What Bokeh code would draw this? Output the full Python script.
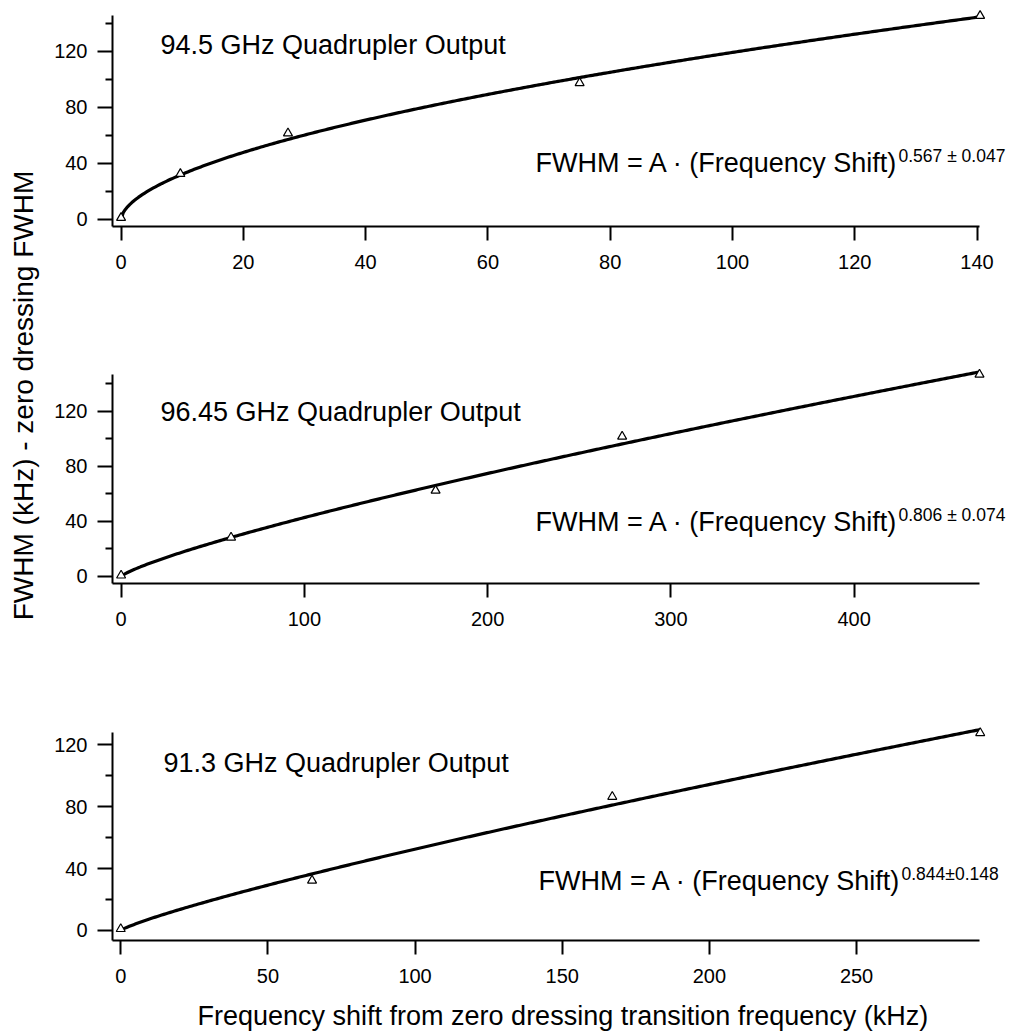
import math
import numpy as np
from bokeh.plotting import figure
from bokeh.layouts import column, row
from bokeh.models import Label, FixedTicker, Range1d
from bokeh.embed import file_html
from bokeh.resources import INLINE

FONT = "Liberation Sans"

# ---- data ----
# Panel 1: 94.5 GHz quadrupler output
shift_945 = [0.0, 9.7, 27.3, 75.0, 140.5]
fwhm_945 = [1.2, 32.6, 61.6, 97.5, 145.5]
exp_945 = 0.567
# Panel 2: 96.45 GHz quadrupler output
shift_9645 = [0.0, 60.0, 171.6, 273.4, 468.4]
fwhm_9645 = [0.8, 28.4, 62.5, 101.8, 146.9]
exp_9645 = 0.806
# Panel 3: 91.3 GHz quadrupler output
shift_913 = [0.0, 65.0, 167.0, 292.0]
fwhm_913 = [1.0, 32.3, 86.5, 127.7]
exp_913 = 0.844

titles = ["94.5 GHz Quadrupler Output", "96.45 GHz Quadrupler Output", "91.3 GHz Quadrupler Output"]
formula_text = "FWHM = A \u00b7 (Frequency Shift)"
exponent_labels = ["0.567 \u00b1 0.047", "0.806 \u00b1 0.074", "0.844\u00b10.148"]

xticks_1 = [0, 20, 40, 60, 80, 100, 120, 140]
xticks_2 = [0, 100, 200, 300, 400]
xticks_3 = [0, 50, 100, 150, 200, 250]
yticks = [0, 40, 80, 120]
yminor_12 = [20, 60, 100, 140]
yminor_3 = [20, 60, 100]

x_label = "Frequency shift from zero dressing transition frequency (kHz)"
y_label = "FWHM (kHz) - zero dressing FWHM"

YLAB_W = 50
XLAB_H = 40
PANEL_W = 1013 - YLAB_W
RIGHT_B = 3          # frame runs almost to the page edge so the exponents fit
AXIS_RIGHT = 979     # where the drawn x axes stop (page pixels)
TOP_EXTRA = 10       # room above the y axes so the top markers are not clipped


def fit_curve(xs, ys, p):
    x = np.asarray(xs, dtype=float)
    y = np.asarray(ys, dtype=float)
    A = float(np.sum(y * x ** p) / np.sum(x ** (2 * p)))
    xc = np.linspace(0.0, x.max(), 400)
    return xc, A * xc ** p


def make_panel(xs, ys, p_exp, title, exp_label, xr, yr, xticks, yminor,
               height, b_top, b_bottom, left_px, title_pos, formula_pos, sup_pos):
    frame_right = 1013 - RIGHT_B
    upp_x = (xr[1] - xr[0]) / (AXIS_RIGHT - left_px)
    x_end = xr[1] + (frame_right - AXIS_RIGHT) * upp_x
    frame_h = height - b_top - b_bottom
    upp_y = (yr[1] - yr[0]) / frame_h
    y_end = yr[1] + TOP_EXTRA * upp_y

    p = figure(width=PANEL_W, height=height, x_range=Range1d(xr[0], x_end),
               y_range=Range1d(yr[0], y_end),
               min_border_left=left_px - YLAB_W, min_border_right=RIGHT_B,
               min_border_top=b_top - TOP_EXTRA, min_border_bottom=b_bottom,
               toolbar_location=None, output_backend="svg",
               background_fill_color="white", border_fill_color="white")
    p.grid.visible = False
    p.outline_line_color = None

    xa = p.xaxis[0]
    xa.bounds = (xr[0], xr[1])
    xa.ticker = FixedTicker(ticks=xticks, minor_ticks=[])
    xa.axis_line_width = 2
    xa.major_tick_line_width = 2
    xa.major_tick_out = 14
    xa.major_tick_in = 0
    xa.minor_tick_out = 0
    xa.minor_tick_in = 0
    xa.major_label_text_font = FONT
    xa.major_label_text_font_size = "20px"
    xa.major_label_text_color = "black"
    xa.major_label_standoff = 14

    ya = p.yaxis[0]
    ya.bounds = (yr[0], yr[1])
    ya.ticker = FixedTicker(ticks=yticks, minor_ticks=yminor)
    ya.axis_line_width = 2
    ya.major_tick_line_width = 2
    ya.minor_tick_line_width = 2
    ya.major_tick_out = 15
    ya.major_tick_in = 0
    ya.minor_tick_out = 7
    ya.minor_tick_in = 0
    ya.major_label_text_font = FONT
    ya.major_label_text_font_size = "20px"
    ya.major_label_text_color = "black"
    ya.major_label_standoff = 10

    xc, yc = fit_curve(xs, ys, p_exp)
    p.line(xc, yc, line_color="black", line_width=3.2)
    p.scatter(xs, ys, marker="triangle", size=9, fill_color="white",
              line_color="black", line_width=1.2)

    p.add_layout(Label(x=title_pos[0], y=title_pos[1], x_units="screen", y_units="screen",
                       text=title, text_font=FONT, text_font_size="27px",
                       text_color="black", text_baseline="alphabetic"))
    p.add_layout(Label(x=formula_pos[0], y=formula_pos[1], x_units="screen", y_units="screen",
                       text=formula_text, text_font=FONT, text_font_size="27px",
                       text_color="black", text_baseline="alphabetic"))
    p.add_layout(Label(x=sup_pos[0], y=sup_pos[1], x_units="screen", y_units="screen",
                       text=exp_label, text_font=FONT, text_font_size="17.5px",
                       text_color="black", text_baseline="alphabetic"))
    return p


p1 = make_panel(shift_945, fwhm_945, exp_945, titles[0], exponent_labels[0],
                (-1.4, 140.4), (-5.0, 145.7), xticks_1, yminor_12,
                300, 15, 74, 112, (48, 182), (423, 64), (786, 71))
p2 = make_panel(shift_9645, fwhm_9645, exp_9645, titles[1], exponent_labels[1],
                (-4.7, 468.4), (-5.1, 146.9), xticks_2, yminor_12,
                380, 74, 97, 112, (48, 172), (423, 62), (786, 69))
p3 = make_panel(shift_913, fwhm_913, exp_913, titles[2], exponent_labels[2],
                (-2.8, 291.8), (-6.5, 128.0), xticks_3, yminor_3,
                354 - XLAB_H, 52, 94 - XLAB_H, 109, (51, 178), (426, 60), (789, 67))

ylab = figure(width=YLAB_W, height=1034 - XLAB_H, x_range=Range1d(0, YLAB_W),
              y_range=Range1d(0, 1034 - XLAB_H),
              min_border=0, toolbar_location=None, output_backend="svg",
              background_fill_color="white", border_fill_color="white")
ylab.axis.visible = False
ylab.grid.visible = False
ylab.outline_line_color = None
ylab.add_layout(Label(x=23, y=1034 - XLAB_H - 395, x_units="screen", y_units="screen",
                      text=y_label, angle=math.pi / 2, text_font=FONT, text_font_size="28px",
                      text_color="black", text_align="center", text_baseline="middle"))

xlab = figure(width=1013, height=XLAB_H, x_range=Range1d(0, 1013), y_range=Range1d(0, XLAB_H),
              min_border=0, toolbar_location=None, output_backend="svg",
              background_fill_color="white", border_fill_color="white")
xlab.axis.visible = False
xlab.grid.visible = False
xlab.outline_line_color = None
xlab.add_layout(Label(x=197, y=19, x_units="screen", y_units="screen",
                      text=x_label, text_font=FONT, text_font_size="27px",
                      text_color="black", text_baseline="alphabetic"))

layout = column(row(ylab, column(p1, p2, p3, spacing=0), spacing=0), xlab, spacing=0)
open("out.html", "w").write(file_html(layout, INLINE))
